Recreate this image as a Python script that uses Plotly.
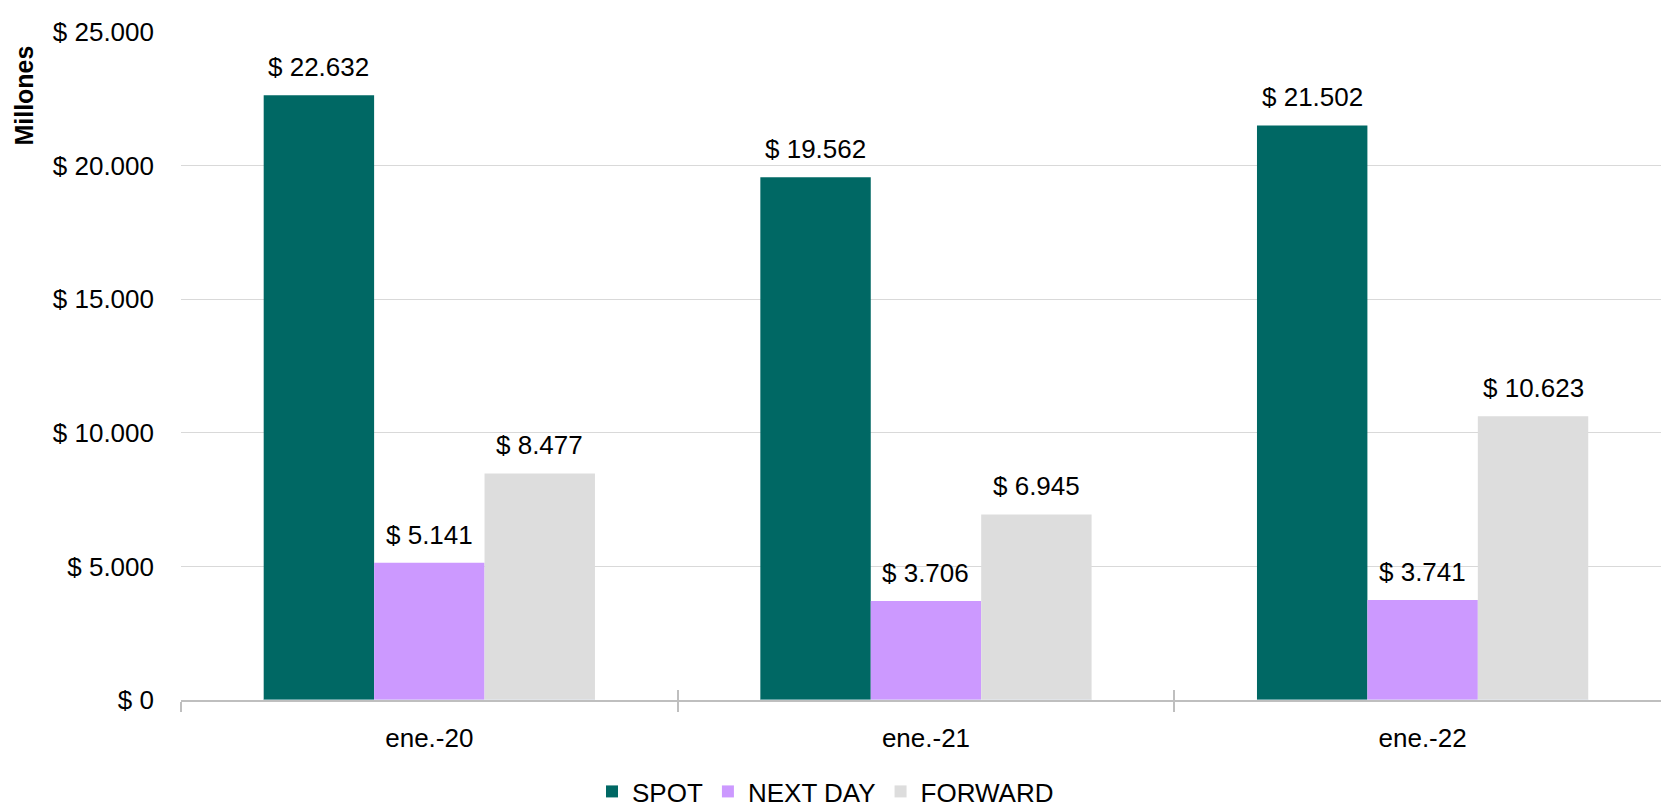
import plotly.graph_objects as go

# Monthly traded amounts (millions), January of each year
categories = ["ene.-20", "ene.-21", "ene.-22"]
spot = [22632, 19562, 21502]
next_day = [5141, 3706, 3741]
forward = [8477, 6945, 10623]

series_names = ["SPOT", "NEXT DAY", "FORWARD"]
series_values = [spot, next_day, forward]
series_colors = ["#006864", "#cc99ff", "#dddddd"]

y_tick_values = [0, 5000, 10000, 15000, 20000, 25000]


def money(v):
    return "$ " + f"{v:,}".replace(",", ".")


FONT = "Liberation Sans, Arial, sans-serif"
FS = 26
BARGAP = 0.333

fig = go.Figure()
for name, vals, color in zip(series_names, series_values, series_colors):
    fig.add_trace(go.Bar(
        x=categories, y=vals, name=name,
        marker=dict(color=color, line=dict(color=color, width=0)),
    ))

# Value labels above each bar
bar_w = (1 - BARGAP) / len(series_names)
annotations = []
for j, vals in enumerate(series_values):
    off = (j - (len(series_names) - 1) / 2) * bar_w
    for i, v in enumerate(vals):
        annotations.append(dict(
            x=i + off, y=v, xref="x", yref="y", text=money(v),
            showarrow=False, yanchor="bottom", yshift=11,
            font=dict(family=FONT, size=FS, color="#000000"),
        ))

# Axis title placed near the top of the value axis
annotations.append(dict(
    x=-0.106, y=0.905, xref="paper", yref="paper", text="<b>Millones</b>",
    textangle=-90, showarrow=False, xanchor="center", yanchor="middle",
    font=dict(family=FONT, size=25, color="#000000"),
))

# Invisible trace carrying an overlay axis for the inner half of the boundary ticks
fig.add_trace(go.Bar(x=categories, y=[0, 0, 0], xaxis="x2", showlegend=False,
                     hoverinfo="skip", marker=dict(color="rgba(0,0,0,0)")))

fig.update_layout(
    width=1661, height=810,
    margin=dict(l=181, r=0, t=32, b=110, autoexpand=False),
    paper_bgcolor="white", plot_bgcolor="white",
    barmode="group", bargap=BARGAP, bargroupgap=0,
    font=dict(family=FONT, size=FS, color="#000000"),
    annotations=annotations,
    legend=dict(
        orientation="h", xref="container", x=0.497, xanchor="center",
        yref="paper", y=-0.137, yanchor="middle",
        font=dict(family=FONT, size=FS, color="#000000"),
        itemwidth=30, traceorder="normal", tracegroupgap=0,
    ),
    xaxis=dict(
        type="category", range=[-0.5, 2.48],
        showgrid=False, showline=True, linecolor="#bfbfbf", linewidth=1.5,
        ticks="outside", ticklen=10, tickwidth=1.5, tickcolor="#bfbfbf",
        tickson="boundaries", ticklabelstandoff=14,
        tickfont=dict(family=FONT, size=FS, color="#000000"),
    ),
    xaxis2=dict(
        type="category", overlaying="x", matches="x", side="bottom",
        showgrid=False, showline=False, showticklabels=False,
        ticks="inside", ticklen=10, tickwidth=1.5, tickcolor="#bfbfbf",
        tickson="boundaries",
    ),
    yaxis=dict(
        range=[0, 25000], tickvals=y_tick_values,
        ticktext=[money(v) for v in y_tick_values],
        showgrid=True, gridcolor="#d9d9d9", gridwidth=1,
        zeroline=False, showline=False, ticks="",
        ticklabelstandoff=26,
        tickfont=dict(family=FONT, size=FS, color="#000000"),
    ),
)

fig.write_html("out.html")
